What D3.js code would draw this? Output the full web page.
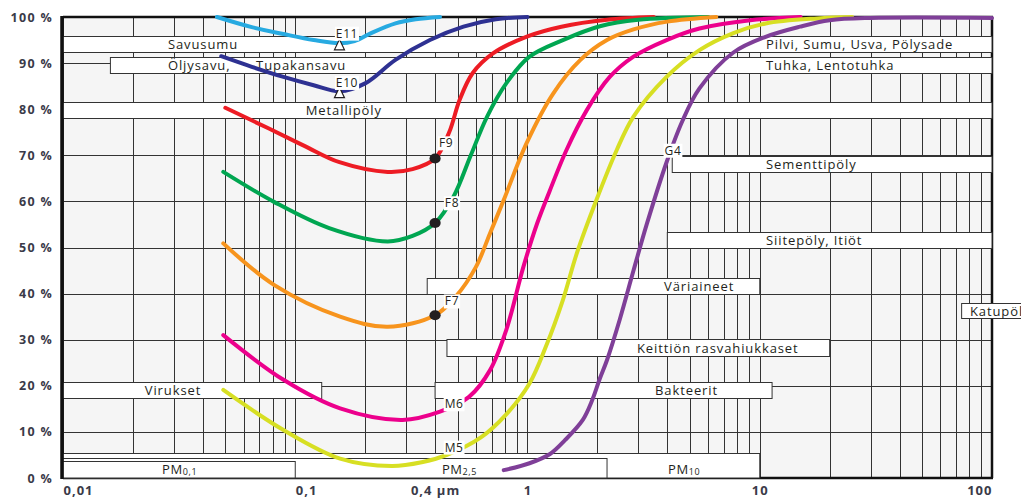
<!DOCTYPE html>
<html>
<head>
<meta charset="utf-8">
<script src="https://cdn.jsdelivr.net/npm/d3@7"></script>
<style>
body { margin: 0; background: #fff; }
text { font-family: "Open Sans", sans-serif; fill: #231f20; }
</style>
</head>
<body>
<svg id="chart" width="1021" height="498"></svg>
<script>
'use strict';

// particle categories: name, size range in µm
var bandNames = ["Savusumu", "Öljysavu,      Tupakansavu", "Metallipöly",
                 "Pilvi, Sumu, Usva, Pölysade", "Tuhka, Lentotuhka", "Sementtipöly",
                 "Siitepöly, Itiöt", "Väriaineet", "Katupöly",
                 "Keittiön rasvahiukkaset", "Bakteerit", "Virukset"];
var bandFrom = [0.01, 0.016, 0.01, 1, 1, 4.2, 4, 0.37, 74, 0.45, 0.4, 0.01];
var bandTo   = [1, 1, 100, 100, 100, 100, 100, 10, 200, 20, 11.3, 0.13];

// PM size classes
var pmSub = ["10", "2,5", "0,1"];
var pmTo  = [10, 2.2, 0.1];

// filter class efficiency curves: [particle size µm, efficiency %]
var seriesNames = ["E11", "E10", "F9", "F8", "F7", "M6", "M5", "G4"];
var E11 = [[0.046,100],[0.065,97.8],[0.089,96.3],[0.12,95],[0.155,94.3],[0.18,94.8],
           [0.21,96.4],[0.27,98.6],[0.33,99.5],[0.42,100]];
var E10 = [[0.048,91.5],[0.065,89.2],[0.089,87],[0.12,85.2],[0.155,83.9],[0.2,85.6],
           [0.27,90.7],[0.38,95],[0.53,97.9],[0.73,99.5],[1,100]];
var F9  = [[0.05,80.3],[0.077,75.8],[0.11,72],[0.155,68.5],[0.25,66.4],[0.32,67],[0.4,69.3],
           [0.46,75],[0.51,82],[0.58,87.8],[0.71,92.1],[1,95.8],[1.4,97.9],[2.2,99.4],[3.5,100]];
var F8  = [[0.049,66.4],[0.081,59.9],[0.14,54.2],[0.25,51.3],[0.32,52.5],[0.4,55.3],[0.48,61],
           [0.57,70],[0.67,78.4],[0.81,85.6],[1.02,91.4],[1.42,95],[2.05,98],[3,99.4],[6,100]];
var F7  = [[0.049,50.9],[0.081,41.9],[0.156,35],[0.25,32.8],[0.4,35.3],[0.49,39.3],[0.6,45.8],
           [0.69,53.1],[0.79,60.3],[0.99,72.6],[1.29,83.4],[1.69,90.7],[2.2,95],[2.86,97.3],
           [4,99],[6.5,100]];
var M6  = [[0.049,31],[0.089,21.3],[0.156,15.1],[0.29,12.6],[0.42,14.4],[0.56,17.6],[0.69,23.4],
           [0.81,32.1],[0.96,45.8],[1.1,55.2],[1.24,62],[1.47,71.1],[1.8,79.8],[2.26,87],
           [2.86,91.4],[3.97,95],[5.5,97.5],[9.1,99.3],[15,100]];
var M5  = [[0.049,19.1],[0.089,10.4],[0.156,4.2],[0.26,2.6],[0.35,3.4],[0.45,5],[0.63,8.8],
           [0.81,13.8],[1.02,20.5],[1.2,28.5],[1.42,38.6],[1.63,48.7],[1.98,60.3],[2.42,71.1],
           [2.86,78.4],[3.97,87],[5.5,92.8],[7.7,96.5],[10.6,98.6],[17.7,99.7],[25,100]];
var G4  = [[0.79,1.7],[1.02,3.2],[1.25,5.2],[1.45,8.2],[1.73,12.6],[1.9,16.9],[2.04,21.3],
           [2.2,25.6],[2.5,34.5],[2.86,45],[3.26,55],[3.97,68.5],[4.65,77.5],[5.5,84.5],
           [7.7,92.3],[10.6,95.7],[14.9,97.9],[20,99.3],[30,99.8],[100,99.8]];

// axis ticks
var xTickValues = [0.01, 0.1, 0.4, 1, 10, 100];
var xTickLabels = ["0,01", "0,1", "0,4 µm", "1", "10", "100"];
var yTickValues = [0, 10, 20, 30, 40, 50, 60, 70, 80, 90, 100];

// ---- layout / style ----
var series = [E11, E10, F9, F8, F7, M6, M5, G4];
var colors = ["#27aae1", "#2e3192", "#ed1c24", "#00a651", "#f7941d", "#ec008c", "#d7df23", "#7f3f98"];
var markerAt   = [0.155, 0.155, 0.4, 0.4, 0.4, null, null, null];
var markerType = ["tri", "tri", "dot", "dot", "dot", null, null, null];
var labelAt = [[0.167,96.5],[0.167,85.8],[0.446,72.7],[0.473,59.7],[0.473,38.4],
               [0.483,16.1],[0.483,6.7],[4.23,71.1]];
var bandRows = [[92.4,95.9],[87.9,91.3],[78.1,81.6],[92.4,95.9],[87.9,91.3],[66.4,69.8],
                [49.9,53.4],[39.9,43.4],[34.7,38],[26.5,30.2],[17.4,20.8],[17.4,20.8]];
var bandTextAt = [0.0283, 0.0283, 0.111, 10.64, 10.64, 10.64, 10.64, 3.87, 80.4, 2.96, 3.54, 0.0225];
var pmTop    = [5.4, 4.3, 3.7];
var pmTextAt = [4.03, 0.428, 0.0267];
var xAnchor  = ["start", "start", "middle", "middle", "middle", "end"];

var svg = d3.select("#chart"),
    x = d3.scaleLog().domain([0.01, 100]).range([63, 992]),
    y = d3.scaleLinear().domain([0, 100]).range([478, 17]);

// background
svg.append("rect")
    .attr("x", x(0.01)).attr("y", y(100))
    .attr("width", x(100) - x(0.01)).attr("height", y(0) - y(100))
    .style("fill", "#f5f5f5");

// log grid
var vLines = [];
[-2, -1, 0, 1].forEach(function(k) {
    for (var m = 1; m < 10; m++) vLines.push(m * Math.pow(10, k));
});
vLines.push(100);
var grid = svg.append("g").style("stroke", "#333").style("stroke-width", 1);
vLines.forEach(function(v) {
    var px = Math.round(x(v)) + 0.5;
    grid.append("line").attr("x1", px).attr("x2", px).attr("y1", y(100)).attr("y2", y(0));
});
yTickValues.forEach(function(v) {
    var py = Math.round(y(v)) + 0.5;
    grid.append("line").attr("x1", x(0.01)).attr("x2", x(100)).attr("y1", py).attr("y2", py);
});

// frame
var frame = svg.append("g").style("stroke", "#111").style("fill", "none");
frame.append("line").attr("x1", x(0.01)).attr("x2", x(100) + 1).attr("y1", y(100)).attr("y2", y(100))
    .style("stroke-width", 2.5);
frame.append("line").attr("x1", x(100)).attr("x2", x(100)).attr("y1", y(100)).attr("y2", y(0))
    .style("stroke-width", 2.5);
frame.append("line").attr("x1", x(0.01)).attr("x2", x(100) + 1).attr("y1", y(0)).attr("y2", y(0))
    .style("stroke-width", 2.5);

// PM boxes
var pm = svg.append("g");
pmTo.forEach(function(v, i) {
    pm.append("rect")
        .attr("x", x(0.01)).attr("y", Math.round(y(pmTop[i])) + 0.5)
        .attr("width", x(v) - x(0.01)).attr("height", y(0) - Math.round(y(pmTop[i])) - 0.5)
        .style("fill", "#fff").style("stroke", "#333").style("stroke-width", 1);
    var t = pm.append("text")
        .attr("x", x(pmTextAt[i])).attr("y", y(0) - 4)
        .style("font-size", "13px").style("letter-spacing", "0.6px");
    t.append("tspan").text("PM");
    t.append("tspan").text(pmSub[i]).style("font-size", "9px").attr("dy", 1);
});

// category boxes
var bands = svg.append("g");
bandNames.forEach(function(name, i) {
    var y0 = Math.round(y(bandRows[i][1])) + 0.5,
        y1 = Math.round(y(bandRows[i][0])) + 0.5;
    bands.append("rect")
        .attr("x", x(bandFrom[i])).attr("y", y0)
        .attr("width", x(bandTo[i]) - x(bandFrom[i])).attr("height", y1 - y0)
        .style("fill", "#fff").style("stroke", "#333").style("stroke-width", 1);
    bands.append("text")
        .attr("x", x(bandTextAt[i])).attr("y", (y0 + y1) / 2 + 4.5)
        .style("font-size", "13px").style("letter-spacing", "0.9px")
        .style("white-space", "pre")
        .text(name);
});

// left axis line
svg.append("line")
    .attr("x1", x(0.01) - 1).attr("x2", x(0.01) - 1).attr("y1", y(100) - 1).attr("y2", y(0) + 1)
    .style("stroke", "#111").style("stroke-width", 3.5);

// curves
var line = d3.line()
    .x(function(d) { return x(d[0]); })
    .y(function(d) { return y(d[1]); })
    .curve(d3.curveCatmullRom.alpha(0.5));

svg.append("g").selectAll("path")
    .data(series)
    .enter().append("path")
        .attr("d", line)
        .style("fill", "none")
        .style("stroke", function(d, i) { return colors[i]; })
        .style("stroke-width", 4)
        .style("stroke-linecap", "round");

// markers
var marks = svg.append("g");
series.forEach(function(s, i) {
    if (!markerAt[i]) return;
    var p = s.find(function(d) { return d[0] === markerAt[i]; }),
        cx = x(p[0]), cy = y(p[1]);
    if (markerType[i] === "dot") {
        marks.append("ellipse").attr("cx", cx).attr("cy", cy).attr("rx", 5.6).attr("ry", 5)
            .style("fill", "#231f20");
    } else {
        marks.append("path")
            .attr("d", "M" + cx + "," + (cy - 4) + "L" + (cx + 5) + "," + (cy + 6.5) +
                       "L" + (cx - 5) + "," + (cy + 6.5) + "Z")
            .style("fill", "#fff").style("stroke", "#231f20").style("stroke-width", 1.2);
    }
});

// curve labels
var labels = svg.append("g");
seriesNames.forEach(function(name, i) {
    var g = labels.append("g"),
        t = g.append("text")
            .attr("x", x(labelAt[i][0])).attr("y", y(labelAt[i][1]) + 4.5)
            .attr("text-anchor", "middle")
            .style("font-size", "12px").style("letter-spacing", "0.6px")
            .text(name),
        b = t.node().getBBox();
    g.insert("rect", "text")
        .attr("x", b.x - 1).attr("y", b.y + 2).attr("width", b.width + 2).attr("height", b.height - 3)
        .style("fill", "#fff");
});

// axes
var yAxis = d3.axisLeft(y).tickValues(yTickValues)
    .tickFormat(function(d) { return d + " %"; })
    .tickSize(0).tickPadding(10);
var gy = svg.append("g").attr("transform", "translate(" + x(0.01) + ",0)").call(yAxis);
gy.select(".domain").remove();
gy.selectAll("text")
    .style("font-family", "'Open Sans', sans-serif")
    .style("font-size", "12.5px").style("font-weight", "bold")
    .style("letter-spacing", "1.3px").style("fill", "#3a3a48");

var xAxis = d3.axisBottom(x).tickValues(xTickValues)
    .tickFormat(function(d, i) { return xTickLabels[i]; })
    .tickSize(0).tickPadding(8);
var gx = svg.append("g").attr("transform", "translate(0," + y(0) + ")").call(xAxis);
gx.select(".domain").remove();
gx.selectAll("text")
    .attr("text-anchor", function(d, i) { return xAnchor[i]; })
    .style("font-family", "'Open Sans', sans-serif")
    .style("font-size", "13px").style("font-weight", "bold")
    .style("letter-spacing", "1px").style("fill", "#3a3a48");
</script>
</body>
</html>
